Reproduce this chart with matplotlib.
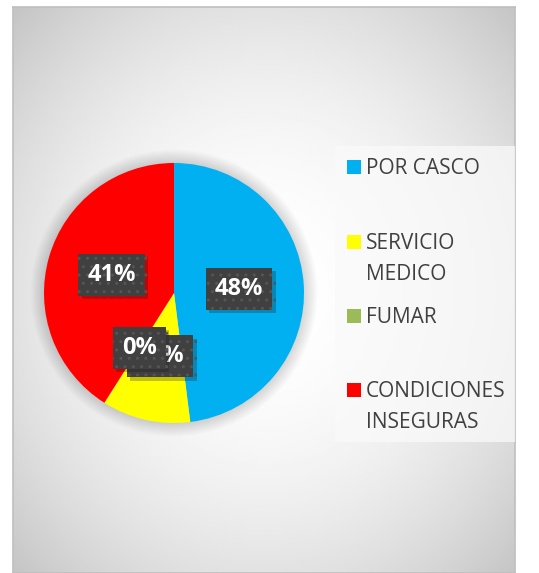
import matplotlib
matplotlib.use("Agg")
import matplotlib.pyplot as plt
import matplotlib.patheffects as pe
import numpy as np
from matplotlib.patches import Rectangle, Circle

categories = ["POR CASCO", "SERVICIO\nMEDICO", "FUMAR", "CONDICIONES\nINSEGURAS"]
values = [48, 11, 0, 41]
colors = ["#00b0f0", "#ffff00", "#9bbb59", "#ff0000"]

W, H = 539, 573
fig = plt.figure(figsize=(W / 100, H / 100), dpi=100)
fig.patch.set_facecolor("white")

# chart area with radial grey gradient
x0, y0, x1, y1 = 13, 7, 515, 573
bg = fig.add_axes([x0 / W, 1 - y1 / H, (x1 - x0) / W, (y1 - y0) / H])
yy, xx = np.mgrid[0:200, 0:200]
r2 = ((xx - 100) / 100.0) ** 2 + ((yy - 100) / 100.0) ** 2
shade = 1 - 0.115 * r2
bg.imshow(shade, cmap="gray", vmin=0, vmax=1, aspect="auto", extent=(0, 1, 0, 1))
bg.set_xticks([])
bg.set_yticks([])
for s in bg.spines.values():
    s.set_color("#bfbfbf")
    s.set_linewidth(1.2)

# pie
cx, cy, rad = 174, 293, 130
pad = 1.2
ax = fig.add_axes([(cx - rad * pad) / W, 1 - (cy + rad * pad) / H,
                   2 * rad * pad / W, 2 * rad * pad / H])
ax.axis("off")

# soft shadow round the pie
for k in range(14):
    ax.add_patch(Circle((0, 0), 1.0 + 0.008 * k, color="black", alpha=0.012, lw=0, zorder=0))

wedges, texts, autotexts = ax.pie(values, colors=colors, startangle=90, counterclock=False,
                                  autopct="%1.0f%%", pctdistance=0.5, radius=1.0,
                                  wedgeprops=dict(linewidth=0, zorder=2))
ax.set_xlim(-pad, pad)
ax.set_ylim(-pad, pad)
plt.rcParams["hatch.linewidth"] = 1.0
for t in autotexts:
    t.set_color("white")
    t.set_fontsize(17)
    t.set_fontweight("bold")
    t.set_fontfamily("Open Sans")
    t.set_zorder(5)
    t.set_bbox(dict(boxstyle="square,pad=0.38", fc="#404040", ec="#555555", lw=0, hatch=".."))
    t.get_bbox_patch().set_path_effects([pe.SimplePatchShadow(offset=(2.5, -2.5), alpha=0.25),
                                         pe.Normal()])

# legend panel
lg_x0, lg_y0, lg_x1, lg_y1 = 335, 146, 515, 442
fig.patches.append(Rectangle((lg_x0 / W, 1 - lg_y1 / H), (lg_x1 - lg_x0) / W, (lg_y1 - lg_y0) / H,
                             transform=fig.transFigure, fc="#fafafa", ec="none", alpha=0.75))
item_y = [167, 242, 316, 390]
for lab, col, iy in zip(categories, colors, item_y):
    fig.patches.append(Rectangle((347 / W, 1 - (iy + 7) / H), 14 / W, 14 / H,
                                 transform=fig.transFigure, fc=col, ec="none"))
    fig.text(366 / W, 1 - (iy - 9) / H, lab, fontsize=15, color="#404040",
             family="Open Sans", va="top", ha="left", linespacing=1.6)

fig.savefig("out.png", dpi=100)
